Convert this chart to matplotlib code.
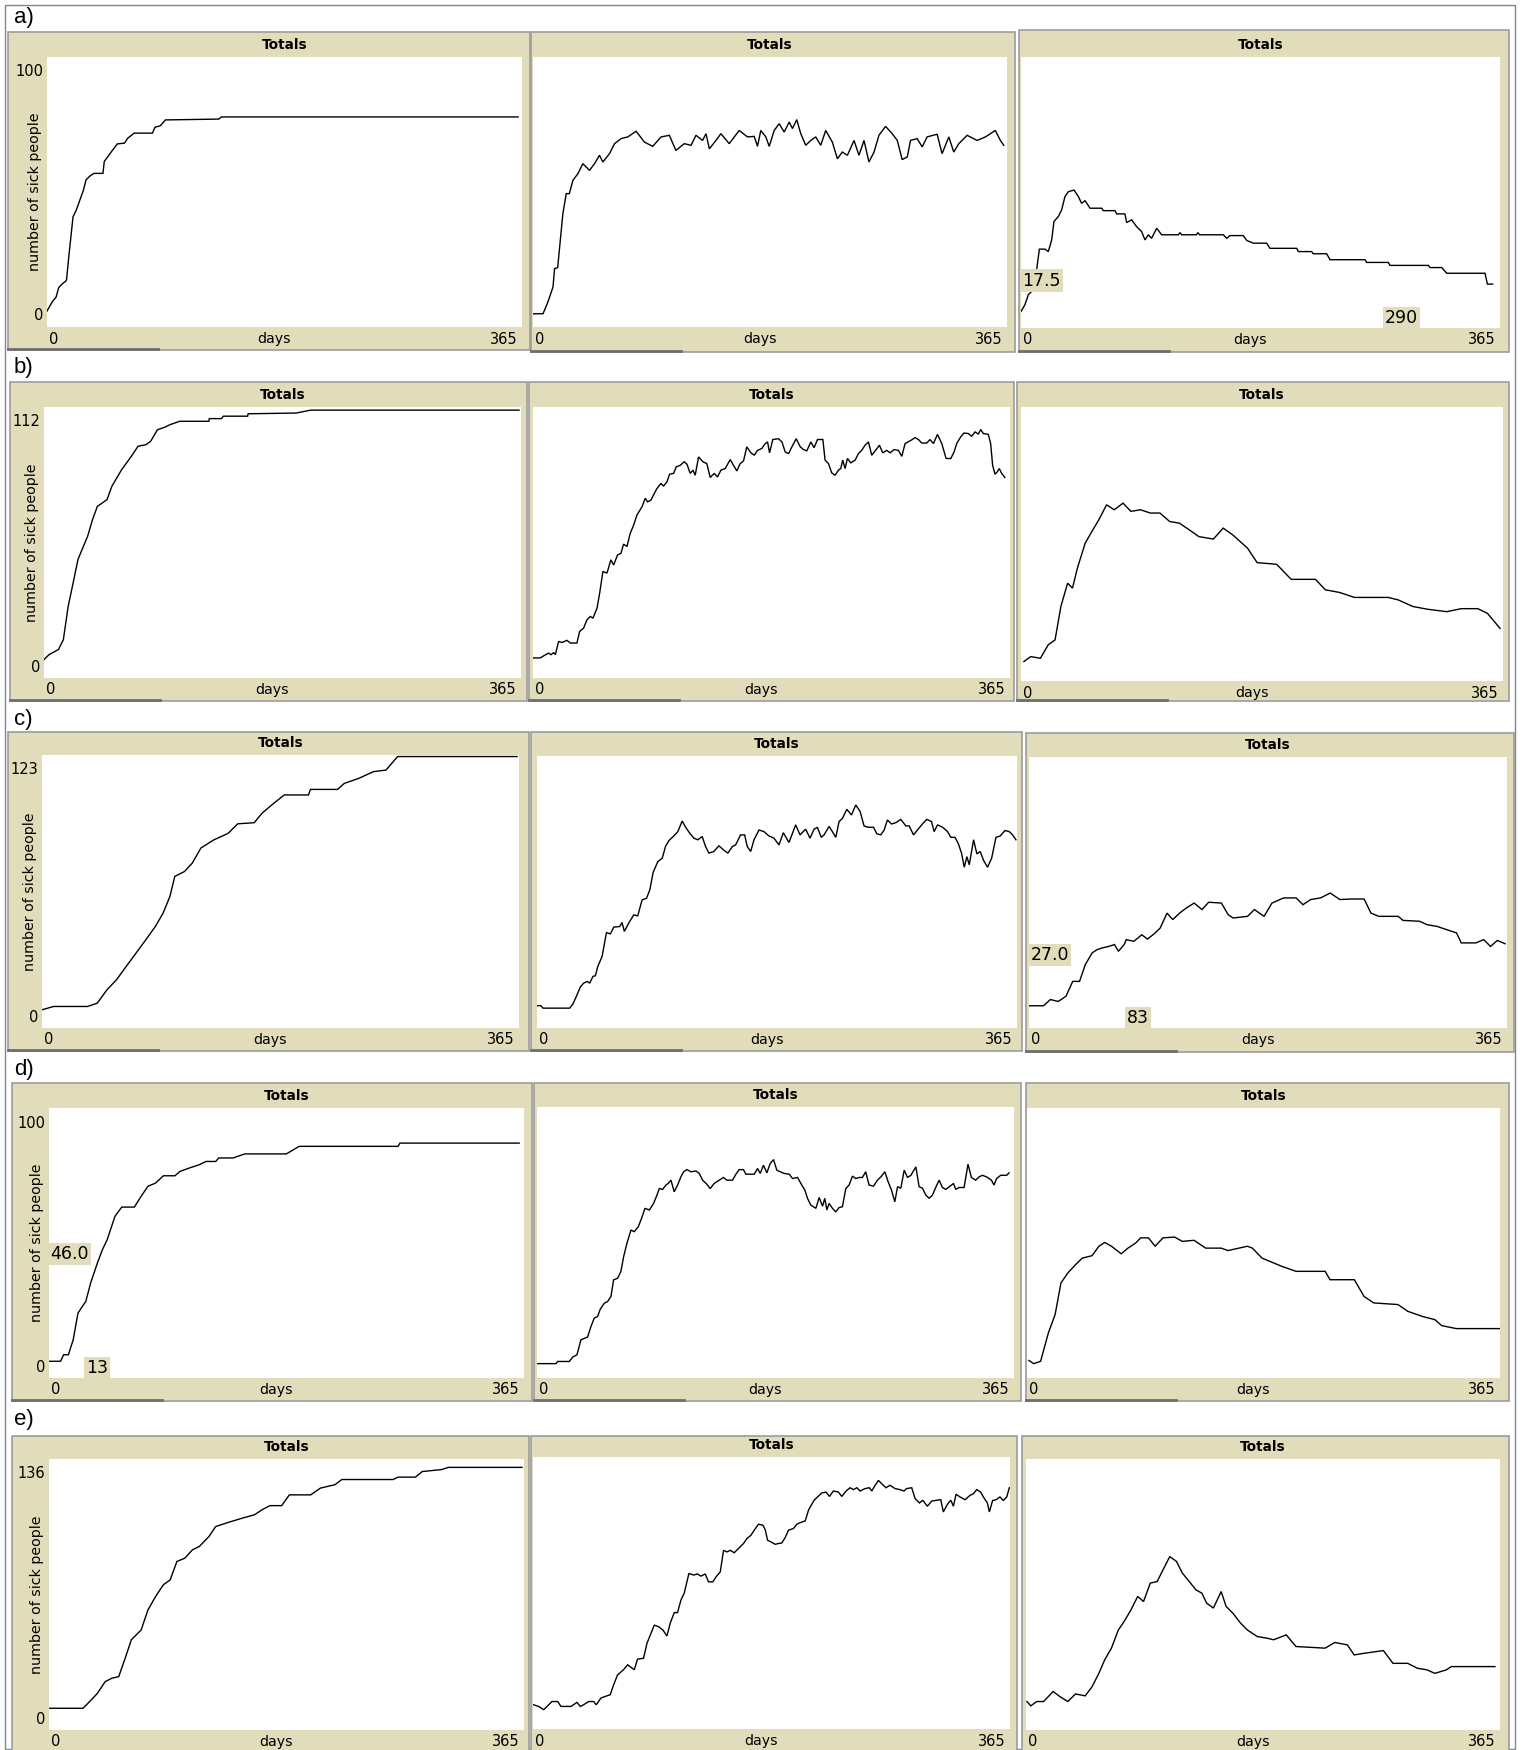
import matplotlib
matplotlib.use("Agg")
import matplotlib.pyplot as plt
from matplotlib.patches import Rectangle
from matplotlib.lines import Line2D

# ---------------- data (day, number of sick people) ----------------
a1 = [(0,5.9),(4,9.3),(7,11.1),(9,14.6),(12,16.1),(14.5,17.0),(15,17.5),(17,27.2),(20,40.8),(22.5,43.3),
      (28,50.7),(30,54.5),(33,55.9),(36,56.9),(43,56.9),(44,61.3),(49,64.6),(54,67.8),(59.5,68.1),(62,69.9),
      (67,71.8),(81,71.8),(83,74.0),(87,74.5),(91,76.7),(132,77.0),(134,77.8),(362,77.8)]
a2 = [(0,4.9),(7.7,4.9),(11.5,9.3),(15.4,14.8),(16.6,21.6),(19,22),(23,42),(25.6,49.4),(28,49.4),(30.7,54.3),
      (34.6,56.8),(38.4,60.5),(43.5,58),(47.4,60.5),(51.2,63.6),(53.8,61.1),(58.9,64.2),(62.8,67.9),(67.9,69.8),
      (73,70.4),(79.4,72.5),(85.8,68.5),(92.2,66.9),(98.6,70.4),(105,71),(110,65.4),(116.5,67.9),(121.7,67.3),
      (125.5,71),(130.6,69.1),(133.2,71.6),(135.8,66),(140.9,69.1),(144.7,71.6),(151.1,67.9),(158.8,72.8),
      (165.2,70.4),(170.3,70.6),(172.9,66.9),(175.4,72.8),(179.3,70.4),(181.9,66.9),(185.7,72.8),(189.6,75.3),
      (193.4,72.2),(197.3,75.9),(199.8,73.5),(203.1,76.8),(206.2,71.6),(210,67.3),(213.9,69.1),(217.7,70.4),
      (221.6,67.3),(225.4,72.8),(230.5,68.5),(234.4,62.3),(238.2,64.8),(242.1,63.6),(247.2,69.1),(251,63.6),
      (254.9,69.1),(258.7,61.1),(262.6,64.8),(266.4,71),(271.5,74.3),(276.6,71.6),(280.5,69.1),(284.3,62),
      (288.2,63),(290.7,69.1),(295.8,69.8),(299.7,66.7),(303.5,70.4),(311.2,71.4),(315,64.2),(320.2,70.4),
      (324,64.8),(327.9,67.9),(334.3,71),(342,69.1),(348.4,70.4),(356,72.8),(359.9,69.1),(362.5,67.3)]
a3 = [(0,6.1),(3,8.6),(5.6,12.3),(9.4,14.1),(11.9,21.5),(14,29.1),(18.3,29.1),(20.8,28.2),(23.4,32.5),(25.1,39.3),
      (28.4,41.1),(31,43.6),(33.5,48.5),(36.1,50.3),(40.4,50.9),(43.7,48.5),(46.2,46),(48.8,47),(52.6,44.2),
      (61.5,44.2),(62.7,43.3),(71.6,43.3),(72.9,42.1),(79.2,42.1),(80.5,38.9),(84.3,39.9),(88.1,37.4),(91.9,35.6),
      (94.5,32.5),(97,34.4),(99.5,33.1),(103.4,36.8),(107.2,34.4),(119.9,34.4),(121.2,35.2),(122.4,34.4),
      (133.6,34.4),(134.8,35.2),(136.1,34.4),(154.2,34.4),(156.7,33.1),(159.3,34.1),(169.4,34.1),(172,32.3),
      (177,31.3),(187.2,31.3),(189.7,29.4),(210.1,29.4),(211.3,28.2),(221.5,28.2),(222.7,27.4),(232.9,27.4),
      (235.5,25.2),(262.1,25.2),(263.4,24.2),(279.9,24.2),(281.2,23.1),(310.4,23.1),(311.7,22.3),(320.6,22.3),
      (324.4,20.2),(353.6,20.2),(355.4,16.2),(359.4,16.2)]
b1 = [(0,7.6),(3.7,9.6),(11.1,11.8),(14.8,15.8),(18.5,29.6),(22.3,39.3),(26,49),(33.4,58.6),(37.1,65.4),
      (40.8,70.9),(48.2,73.7),(51.9,79.2),(59.4,86.1),(66.8,91.6),(72,95.8),(77.9,96.4),(81.6,97.8),(86.8,102.6),
      (92.7,103.7),(96.4,104.7),(103.9,106.1),(126.1,106.1),(126.5,107.2),(135.8,107.2),(137.2,108.2),
      (155.8,108.2),(156.2,109.2),(192.9,109.5),(204,110.7),(363.5,110.7)]
b2 = [(0,7.4),(5.6,7.4),(8.2,8.2),(12,9.2),(13.8,8.6),(15.8,9.4),(17.1,8.6),(19.6,13.5),(22.2,13.1),(26,13.9),
      (28.5,12.9),(33.6,12.9),(35.7,17.2),(38.7,18.4),(41.3,21.5),(43.8,22.7),(45.9,22.1),(49,25.8),(51,31.3),
      (53.5,39.3),(56.6,38.7),(59.6,43.6),(61.7,41.7),(64.7,45.4),(67.3,46),(69.3,49.4),(71.9,48.5),(74.4,53.4),
      (77,56.4),(79.5,60.1),(83.4,63.2),(85.9,66.3),(87.7,65),(90.2,65.6),(92.8,68.1),(94.8,69.9),(97.9,71.8),
      (99.9,70.8),(102.5,72.4),(104.5,75.2),(107.6,75.5),(109.6,77.9),(112.7,78.5),(115.7,79.8),(117.8,78.9),
      (120.3,75.5),(122.4,76.7),(124.1,74.8),(126.7,81.6),(130,79.8),(133,79.1),(135.6,74),(138.7,75.5),
      (141.2,74.2),(143.8,76.7),(147.1,77.3),(150.9,80.6),(153.4,78.5),(156,76.4),(158.5,79.1),(161.1,80.1),
      (163.6,85.3),(166.7,83.1),(169.3,82.2),(171.8,84),(175.1,84.7),(177.7,86.5),(179.5,87.1),(181,83.1),
      (183.5,88),(187.9,88.3),(190.5,87.1),(193,83.4),(195.6,82.8),(198.1,85.3),(201.4,88.3),(204.5,85.3),
      (207,84.3),(209.5,83.8),(212.6,87.1),(215.1,85),(217.7,88),(221.8,88),(223.5,80.4),(226.1,79.1),
      (228.6,75.7),(231.2,74.8),(233.7,76.7),(235.5,77.3),(237,80.4),(238.8,77.3),(240.6,81),(243.2,79.4),
      (246.5,80.4),(249,82.8),(251.5,84),(254.1,85.9),(256.7,87.1),(259.2,82.2),(261.8,83.8),(265.1,85.9),
      (267.6,83.1),(270.7,84),(273.3,83.1),(276.3,84.3),(279.6,84),(282.2,81.8),(284.7,86.5),(288.5,87.5),
      (292.4,88.7),(294.9,88),(297.5,86.7),(301.3,86.7),(303.8,88),(306.4,86.5),(309.5,89.9),(312.8,86.5),
      (316.1,81),(319.7,81),(322.2,83.4),(324.2,86.5),(327.3,89),(329.8,90.4),(333.1,90.2),(335.7,89.2),
      (338.2,90.8),(340.8,90),(342.6,91.7),(344.6,90.2),(348.4,89.9),(350.2,86.5),(351.7,78.5),(353.5,75.2),
      (355.3,76.1),(356.8,77.3),(358.6,75.5),(361.1,74)]
b3 = [(2.2,7.1),(7.4,8.9),(14.7,8.3),(20.6,13.2),(25.8,15),(30.2,27.2),(35.3,35.7),(39,33.9),(42.7,41.2),
      (48.6,50.3),(53.7,54.6),(58.9,58.8),(64.8,64.3),(70.6,62.5),(77.3,64.9),(83.2,61.9),(90.5,62.5),(97.9,61.3),
      (105.2,61.3),(112.6,58.2),(120,57.6),(127.3,55.2),(134.7,52.7),(145.7,51.8),(153.1,55.8),(160.4,53.3),
      (171.5,48.5),(178.8,43.2),(193.6,42.6),(204.6,37.1),(223,37.1),(230.4,33.3),(241.4,32.3),(252.5,30.5),
      (278.2,30.5),(285.6,29.6),(296.7,27.2),(307.7,26.2),(322.4,25.3),(333.4,26.4),(345.9,26.4),(353.2,24.7),
      (362.8,19.2)]
c1 = [(0,8.2),(8.9,9.7),(34.9,9.7),(42.3,11.2),(49.7,17.2),(57.1,21.8),(64.5,27.8),(71.9,33.7),(79.4,39.7),
      (86.8,45.8),(92.7,51.8),(97.9,59.3),(101.6,68.3),(109,70.5),(115,74.3),(121.6,81.1),(131.3,84.7),
      (142.4,87.7),(149.8,92),(162.4,92.5),(168.4,96.8),(175.8,100.5),(185.4,105),(203.9,105),(205.4,107.5),
      (226.2,107.5),(231.3,110.2),(242.5,112.5),(253.6,115.5),(263.2,116.2),(272.1,122.3),(363.5,122.3)]
c2 = [(0,8.2),(3,8.2),(4.6,7.3),(24.9,7.3),(27.4,8.9),(29.9,11.6),(33,15.1),(35.5,16.5),(38.1,17.1),(40.1,16.5),
      (42.6,19),(44.4,19.2),(46.2,22.6),(49.5,26.3),(52.8,35.1),(55.8,34.6),(58.4,37.1),(62.9,37.3),(64.7,38.8),
      (66.4,35.5),(69.8,38.6),(73.6,41.6),(76.6,41.2),(79.9,47.1),(83.3,47.7),(85.8,50.8),(88.3,57.2),(91.9,61.2),
      (95.2,62.4),(97.7,66.7),(100.3,68.9),(103.6,70.4),(107.1,72.2),(110.4,76.1),(113,73.8),(116.2,71.6),
      (119.3,69.8),(122.3,69.2),(125.6,70.4),(128.2,66.7),(130.7,64.3),(134.5,64.9),(138.3,67),(141.7,65.5),
      (145.2,64.3),(148.5,66.7),(151,67.3),(154.8,71),(157.9,71),(159.9,66.7),(162.5,64.9),(165,69.2),
      (168.8,72.8),(172.6,72.2),(176.4,70.6),(180.2,69.8),(184,67.3),(187.3,71.8),(191.6,68.2),(196.7,74.7),
      (200,71),(204.3,73.1),(207.6,69.8),(210.7,73.1),(213.2,73.8),(216.2,70.1),(218.3,71),(222.1,74.1),
      (224.6,72.2),(227.2,70.1),(229.7,75.9),(232.3,77.1),(235.6,80.4),(239.1,78.3),(242.4,82),(245.7,79.6),
      (248.7,74.3),(251.8,73.8),(255.9,73.8),(258.4,71.4),(261.4,71),(264,72.8),(266.5,76.5),(269.5,75),
      (272.9,75.5),(276.6,76.7),(280.5,74.3),(283,74.3),(286.3,71),(289.3,72.8),(293.1,75),(296.4,76.7),
      (300,75.9),(302,72.2),(304.6,74.7),(308.4,73.8),(312.2,72.2),(314.7,70.1),(317.8,70.1),(320.3,67.9),
      (322.8,64.3),(324.9,59.1),(326.9,63),(328.7,60),(332,69.2),(334.5,64),(337,64.9),(339.6,61.6),(342.6,59.1),
      (345.7,62.4),(349,70.1),(352.3,70.6),(355.8,72.6),(359.1,72.2),(361.7,71),(364.2,69.2)]
c3 = [(0,8.2),(11.1,8.2),(16.3,10.5),(22.3,9.8),(28.2,11.7),(33.4,17.2),(38.6,17.2),(43,23.4),(48.2,27.7),
      (51.9,28.9),(55.6,29.5),(60.8,30.1),(65.3,30.8),(68.3,28.3),(72.7,30.8),(74.2,32.6),(80.1,32),(86.1,34.4),
      (90.5,32.8),(96.4,35.1),(100.2,36.9),(105.4,42.4),(109.8,40),(115,42.4),(120.2,44.3),(126.1,46.1),
      (132.1,43.7),(137.2,46.4),(146.9,46.1),(152.1,41.8),(155.8,40.6),(166.9,41.2),(172.1,43.7),(179.5,41.2),
      (185.5,46.1),(194.4,48),(204,48),(209.2,45.5),(215.1,47.4),(222.6,48),(230,49.8),(237.4,47.4),(246.3,47.6),
      (255.9,47.6),(261.1,42.4),(267.1,41.2),(281.9,41.2),(285.6,39.7),(298.2,39.4),(304.1,38.1),(311.5,37.5),
      (318.9,36.3),(326.4,35.1),(330.1,31.4),(341.2,31.4),(347.2,32.6),(352.4,30.1),(357.6,32.3),(363.5,31.1)]
d1 = [(0,6.2),(8.9,6.2),(11.2,8.6),(14.9,8.6),(18.6,14.2),(22.3,24.1),(28.3,28.4),(32,35.2),(37.2,42.6),(41,47.5),
      (44.7,51.2),(50.7,59.9),(55.9,63.3),(65.6,63.3),(70.8,67.3),(76,71),(81.9,72.2),(87.9,74.9),(96.8,74.9),
      (100.6,76.5),(108,77.8),(115.5,79),(120.7,80.2),(128.1,80.2),(130.4,81.5),(141.5,81.5),(150.5,83),
      (182.4,83),(192.2,85.8),(268.2,85.8),(269.7,87),(361.3,87)]
d2 = [(0,5.3),(14.5,5.3),(15.8,6.1),(24.7,6.1),(27.3,7.7),(30.6,8.6),(33.6,14.1),(38.7,15.1),(41.3,19),(43.8,22.1),
      (46.4,22.7),(48.4,25.4),(51.5,27.6),(54,28.2),(56.6,30.1),(58.6,36.2),(61.7,36.8),(64.2,39.3),(66.3,44.8),
      (68.8,49.7),(71.9,54.6),(74.4,54),(77.5,55.8),(80,58.9),(82.6,62.6),(86,62),(89.2,64.4),(91.8,67.5),
      (93.6,69.9),(96.1,69.6),(98.7,71.2),(100.4,71.8),(102.5,73),(105,68.7),(107.6,71.2),(110.1,74.2),
      (112.2,76.1),(114.7,76.9),(117.8,76.1),(121.6,76.4),(124.1,75.5),(126.7,73),(130,71.5),(132.5,69.9),
      (135.6,71.8),(139.4,73),(142.7,74),(145.2,73),(149.6,73),(152.2,75.2),(154.7,76.9),(158,76.9),(159.8,75.2),
      (163.1,75.2),(166.2,75.2),(168.8,77.3),(170.8,75.5),(173.3,78.5),(175.9,75.7),(178.4,79.1),(181,80.6),
      (183.5,76.7),(186.1,76.1),(189.1,75.5),(193,75.2),(195.6,73.6),(199.4,74),(201.9,71.8),(205,69.3),
      (207,66.3),(209.5,63.8),(213.4,62.6),(215.9,66.6),(218.5,63.4),(220.2,66.3),(221.8,62),(223.5,64.4),
      (226.1,62.6),(228.6,61.3),(231.2,62.9),(233.7,63.2),(236.3,69.9),(238.8,71.2),(241.4,74.5),(243.9,73.6),
      (246.5,74),(249,74),(251.5,76.1),(254.1,71.2),(257.5,70.8),(260.5,73),(263.1,74.2),(266.2,76.1),
      (268.7,72.4),(271.3,69.3),(273.8,65),(275.9,70.6),(278.4,70),(281,76.7),(283.5,74),(286.1,74.8),
      (289.9,77.9),(292.4,70.6),(295,70),(297.5,67.5),(300.1,66.3),(302.6,67.5),(305.1,70.3),(307.7,73),
      (310.2,70.3),(312.8,69.6),(316.1,70.8),(318.7,71.8),(320.4,69.6),(323,70.3),(326.8,70.3),(329.8,78.9),
      (332.4,74),(335.7,73),(338.2,74.2),(340.8,74.8),(344.1,74.2),(347.7,73),(349.7,71.2),(351.7,73.6),
      (354.8,74.8),(359.4,74.8),(361.2,75.7)]
d3 = [(1.5,6.5),(5.2,5.3),(10.5,6.2),(16.5,16.7),(21.7,23.5),(26.2,35.2),(31.5,38.9),(37.5,42),(42.7,44.4),
      (50.2,45.3),(55.5,48.8),(60,50.2),(65.2,48.8),(72.7,46),(77.9,48.1),(83.9,50),(87.7,51.9),(93.7,51.9),
      (98.9,48.8),(104.9,51.9),(113.9,52.2),(119.9,50.6),(128.9,51),(137.9,48.1),(149.9,48.1),(155.1,47.2),
      (170.1,48.8),(173.9,48.1),(181.4,44.4),(196.4,41.4),(207.6,39.5),(230.1,39.5),(233.8,36.4),(252.6,36.4),
      (260.1,30.2),(267.6,27.8),(286.3,27.2),(293.8,24.7),(305.1,22.8),(314.8,21.6),(320,19.4),(331.3,18.3),
      (365,18.3)]
e1 = [(0,10.9),(26.1,10.9),(31.3,14.3),(37.2,18.4),(43.2,24.3),(48.4,26),(53.6,26.8),(58.1,35.2),(63.3,45.3),
      (70.8,50.2),(76,60.2),(81.9,67),(87.9,72.9),(93.1,75.3),(98.3,84.6),(104.3,86.2),(110.2,90.4),(115.5,92.1),
      (122.9,97.1),(128.1,102.1),(137.8,104.2),(149,106.4),(157.9,108),(163.9,110.6),(169.8,112.6),(178.8,112.6),
      (184.7,118),(201.1,118),(208.6,121.4),(219.7,123.1),(225,125.7),(264.4,125.7),(268.2,126.9),(281.6,126.9),
      (286.8,129.7),(301.7,130.7),(306.9,131.8),(363.5,131.8)]
e2 = [(0.5,8.9),(4.3,8.3),(8.2,7.1),(12,8.9),(14.5,10.1),(18.9,10.1),(21.4,8.3),(29.1,8.3),(33.6,9.8),(36.2,8.3),
      (38.7,8.9),(42.6,10.1),(46.4,10.1),(48.4,8.9),(52,11.4),(56.6,12.2),(59.1,12.6),(61.2,15.6),(64.7,19.9),
      (69.3,21.8),(72.4,23.6),(74.9,22.7),(77.5,21.8),(80,25.7),(84.6,26),(87.2,31.5),(92.8,38.2),(96.1,37.6),
      (99.4,36.4),(102.5,34.2),(105,38.9),(108.1,42.8),(110.6,42.8),(113.2,47.4),(115.7,49.9),(119.3,57.2),
      (122.9,56.6),(125.9,57),(128.5,56.2),(131.8,57),(134.3,54.1),(137.6,54.1),(140.2,56),(143.3,57.8),
      (145.8,65.7),(148.4,65.1),(150.9,65.7),(154,64.8),(157.3,66.4),(161.1,68.2),(163.6,70),(166.7,71.2),
      (169.3,73.1),(172.6,75.3),(175.9,74.9),(177.7,73.3),(179.5,69.4),(182,68.8),(185.4,67.9),(187.9,68.2),
      (190.4,68.4),(193,70.4),(195.5,73.1),(199.3,73.7),(201.9,75.3),(205.7,76.1),(208.3,76.5),(210.8,80.4),
      (212.1,81.6),(215.1,84.1),(217.7,85.3),(221,86.8),(224.3,87.1),(226.8,85.5),(229.9,87.5),(233.7,87.1),
      (236.3,85.5),(239.6,87.5),(242.6,88.7),(245.2,88),(247.8,88.7),(250.3,87.5),(254.1,88.4),(257.4,88.7),
      (259.2,87.5),(261.8,89.6),(264.3,91.4),(266.8,90.2),(270.1,88.7),(273.2,89.6),(277,88.4),(280.8,88),
      (283.9,87.5),(285.9,88.4),(289.8,88.7),(292.4,84.7),(295.7,83.1),(298.2,84.1),(301.8,81.9),(305.1,83.8),
      (308.9,84.1),(312,84.3),(314,79.8),(317.1,82.6),(319.7,84.1),(321.7,81.9),(323.7,86.3),(326.8,85.3),
      (330.6,84.3),(334.4,85.9),(337,86.5),(339.5,88),(342.6,87.1),(344.6,85.3),(347.7,83.1),(349.2,79.8),
      (351.7,84),(354.3,84.3),(357.3,85.3),(359.9,84),(362.5,85.3),(364.5,88.7)]
e3 = [(0.7,10.5),(3.7,8.9),(8.2,10.5),(13.5,10.5),(20.9,14.2),(26.2,12.3),(32.2,10.5),(38.1,13.3),(45.6,12.6),
      (50.9,16),(56.1,20.9),(60.6,25.9),(65.8,30.2),(71.1,36.9),(75.5,40),(80.8,44.3),(86,49.3),(90.5,47.4),
      (95.7,54.2),(101,54.8),(105.5,59.1),(110.7,64),(115.9,62.2),(120.4,57.9),(125.7,54.8),(130.9,51.7),
      (135.4,50.5),(139.1,46.8),(144.3,45),(150.3,51.1),(154.1,45.6),(159.3,43.1),(165.3,39.4),(170.5,36.9),
      (178,34.5),(185.5,33.9),(190.7,33.3),(200.4,35.1),(207.9,30.8),(230.3,30.2),(237.8,32.3),(247.5,31.4),
      (252.7,27.7),(260.2,28.3),(275.2,29.3),(282.6,24.6),(293.9,24.6),(301.3,22.8),(308.8,22.2),(314.8,20.9),
      (323.7,22.2),(327.5,23.4),(361.1,23.4)]

row_labels = ["a)", "b)", "c)", "d)", "e)"]
series = [[a1, a2, a3], [b1, b2, b3], [c1, c2, c3], [d1, d2, d3], [e1, e2, e3]]
col1_ymax = [100, 112, 123, 100, 136]   # y range of left panels (labelled)
other_ymax = 100                         # y range of unlabelled panels
x_max = 365
title = "Totals"
x_label = "days"
y_label = "number of sick people"
# mouse-over readouts: (row, col, text, x, y)  (y=None -> at bottom)
tooltips = [(0, 2, "17.5", 0, 17.5), (0, 2, "290", 290, None),
            (2, 2, "27.0", 0, 27.0), (2, 2, "83", 83, None),
            (3, 0, "46.0", 0, 46.0), (3, 0, "13", 37, None)]

# ---------------- layout (pixels) ----------------
W, H = 1522, 1750
BEIGE = "#E1DCB9"
label_y = [18, 367, 719, 1069, 1419]
frames = [
    [(8, 32, 530, 350), (531, 32, 1015, 352), (1019, 30, 1509, 352)],
    [(10, 382, 527, 701), (529, 382, 1014, 701), (1017, 382, 1509, 701)],
    [(8, 732, 529, 1051), (531, 732, 1022, 1051), (1026, 733, 1514, 1052)],
    [(12, 1083, 532, 1401), (534, 1083, 1021, 1401), (1026, 1083, 1509, 1401)],
    [(12, 1436, 529, 1752), (531, 1436, 1017, 1752), (1022, 1436, 1509, 1752)],
]
whites = [
    [(47, 57, 522, 327), (533, 57, 1007, 327), (1021, 57, 1500, 328)],
    [(44, 407, 521, 678), (533, 407, 1010, 678), (1021, 407, 1503, 681)],
    [(42, 755, 519, 1028), (537, 756, 1017, 1028), (1029, 757, 1507, 1028)],
    [(49, 1108, 524, 1378), (537, 1107, 1014, 1378), (1027, 1108, 1500, 1378)],
    [(49, 1459, 524, 1730), (533, 1457, 1010, 1729), (1026, 1459, 1500, 1730)],
]

fig = plt.figure(figsize=(W / 100, H / 100), dpi=100)
fig.patch.set_facecolor("white")

def fx(x):
    return x / W

def fy(y):
    return 1 - y / H

def rect(x0, y0, x1, y1, **kw):
    fig.add_artist(Rectangle((fx(x0), fy(y1)), (x1 - x0) / W, (y1 - y0) / H,
                             transform=fig.transFigure, **kw))

def hline(x0, x1, y, **kw):
    fig.add_artist(Line2D([fx(x0), fx(x1)], [fy(y), fy(y)], transform=fig.transFigure, **kw))

# outer border
rect(5, 5, 1515, 1749, facecolor="none", edgecolor="#7d8696", lw=1.0, zorder=0)

FONT = "DejaVu Sans"
for r in range(5):
    fig.text(fx(14), fy(label_y[r]), row_labels[r], fontsize=16, family="Liberation Sans",
             ha="left", va="center", color="black")
    for c in range(3):
        fx0, fy0, fx1, fy1 = frames[r][c]
        rect(fx0, fy0, fx1, fy1, facecolor=BEIGE, edgecolor="#9c9c9c", lw=1.2, zorder=1)
        hline(fx0, fx0 + 150, fy1 - 1, color="#6f6f6f", lw=2.0, zorder=2)
        x0, y0, x1, y1 = whites[r][c]
        ax = fig.add_axes([fx(x0), fy(y1), (x1 - x0) / W, (y1 - y0) / H], zorder=3)
        ax.set_facecolor("white")
        for s in ax.spines.values():
            s.set_visible(False)
        ax.set_xticks([])
        ax.set_yticks([])
        ymax = col1_ymax[r] if c == 0 else other_ymax
        ax.set_xlim(0, x_max)
        ax.set_ylim(0, ymax)
        pts = series[r][c]
        ax.plot([p[0] for p in pts], [p[1] for p in pts], color="black", lw=1.0,
                solid_joinstyle="miter", clip_on=True)
        xc = (x0 + x1) / 2
        fig.text(fx(xc), fy(y0 - 12), title, fontsize=9.8, fontweight="bold", family=FONT,
                 ha="center", va="center")
        fig.text(fx(x0 + 2), fy(y1 + 12), "0", fontsize=10.5, family=FONT, ha="left", va="center")
        fig.text(fx(xc - 10), fy(y1 + 12), x_label, fontsize=10.2, family=FONT, ha="center", va="center")
        fig.text(fx(x1 - 4), fy(y1 + 12), str(x_max), fontsize=10.5, family=FONT, ha="right", va="center")
        if c == 0:
            fig.text(fx(x0 - 4), fy(y0 + 15), str(col1_ymax[r]), fontsize=10.5, family=FONT,
                     ha="right", va="center")
            fig.text(fx(x0 - 4), fy(y1 - 11), "0", fontsize=10.5, family=FONT, ha="right", va="center")
            fig.text(fx(x0 - 12), fy((y0 + y1) / 2), y_label, fontsize=10.3, family=FONT,
                     rotation=90, ha="center", va="center")
        for (tr, tc, txt, tx, ty) in tooltips:
            if tr == r and tc == c:
                bb = dict(boxstyle="square,pad=0.12", facecolor=BEIGE, edgecolor="none")
                if ty is None:
                    ax.text(tx, 0.005 * ymax, txt, fontsize=12.5, family=FONT, ha="center",
                            va="bottom", bbox=bb, zorder=5)
                else:
                    ax.text(tx + 1, ty, txt, fontsize=12.5, family=FONT, ha="left",
                            va="center", bbox=bb, zorder=5)

fig.savefig("out.png", dpi=100, facecolor="white")
